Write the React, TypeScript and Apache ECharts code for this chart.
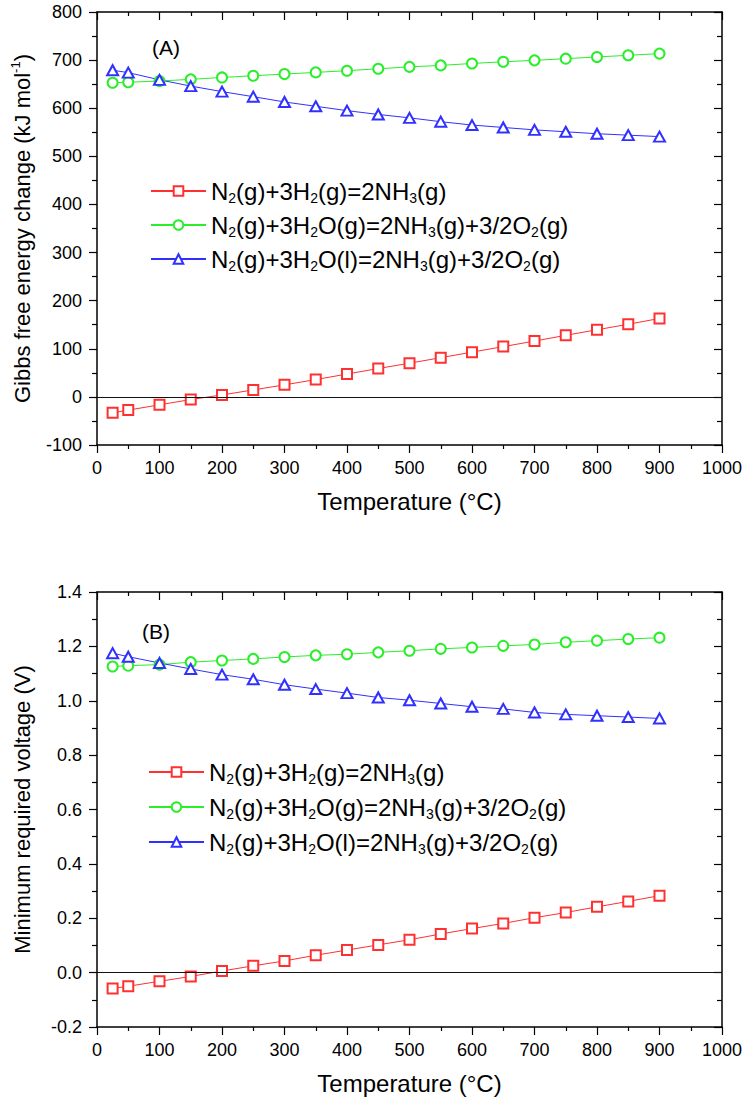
import React, { useEffect, useRef } from "react";
import * as echarts from "echarts";

const temperatures = [25, 50, 100, 150, 200, 250, 300, 350, 400, 450, 500, 550, 600, 650, 700, 750, 800, 850, 900];

// Panel A: Gibbs free energy change (kJ mol-1)
const gibbsH2 = [-33, -27.5, -16.5, -5.5, 4, 14.5, 25, 36, 47.5, 59, 70, 81.5, 93, 104.5, 116, 128, 139.5, 151, 163];
const gibbsH2Og = [653, 654, 656.5, 660, 664, 667.5, 671, 674.5, 678, 682, 686, 689, 693, 696.5, 699.5, 703, 706.5, 710, 713.5];
const gibbsH2Ol = [679, 674, 659, 646, 634.5, 624, 613, 604, 595, 587, 580, 572, 565, 560, 555, 551, 547, 544, 541];

// Panel B: Minimum required voltage (V)
const voltH2 = [-0.058, -0.05, -0.032, -0.014, 0.006, 0.025, 0.043, 0.064, 0.083, 0.102, 0.121, 0.142, 0.162, 0.181, 0.202, 0.221, 0.242, 0.262, 0.283];
const voltH2Og = [1.126, 1.129, 1.133, 1.142, 1.148, 1.154, 1.161, 1.167, 1.171, 1.178, 1.184, 1.191, 1.196, 1.202, 1.207, 1.215, 1.221, 1.227, 1.232];
const voltH2Ol = [1.175, 1.162, 1.139, 1.117, 1.096, 1.079, 1.059, 1.043, 1.028, 1.012, 1.002, 0.99, 0.978, 0.97, 0.957, 0.95, 0.945, 0.94, 0.935];

const seriesNames = [
  "N2(g)+3H2(g)=2NH3(g)",
  "N2(g)+3H2O(g)=2NH3(g)+3/2O2(g)",
  "N2(g)+3H2O(l)=2NH3(g)+3/2O2(g)",
];
const seriesRich = [
  "N{sub|2}(g)+3H{sub|2}(g)=2NH{sub|3}(g)",
  "N{sub|2}(g)+3H{sub|2}O(g)=2NH{sub|3}(g)+3/2O{sub|2}(g)",
  "N{sub|2}(g)+3H{sub|2}O(l)=2NH{sub|3}(g)+3/2O{sub|2}(g)",
];
const seriesColors = ["#ff3030", "#2aee2a", "#3030ff"];
const seriesSymbols = ["emptyRect", "emptyCircle", "emptyTriangle"];
const symbolSizes: any[] = [10, 10, [11, 10]];

const xTitle = "Temperature (°C)";
const yTitleA = "Gibbs free energy change (kJ mol{sup|-1})";
const yTitleB = "Minimum required voltage (V)";
const panelLabels = ["(A)", "(B)"];

const FONT = "'Liberation Sans', Arial, sans-serif";

export default function App() {
  const ref = useRef<HTMLDivElement>(null);

  useEffect(() => {
    if (!ref.current) return;
    const chart = echarts.init(ref.current, null, { renderer: "svg" });

    const grids = [
      { left: 97, right: 25, top: 12, height: 433 },
      { left: 97, right: 25, top: 592, height: 435 },
    ];

    const axisLine = { show: true, onZero: false, lineStyle: { color: "#000", width: 1.5 } };

    const makeX = (gridIndex: number, position: "bottom" | "top", nameGap: number) => ({
      type: "value",
      gridIndex,
      position,
      min: 0,
      max: 1000,
      interval: 100,
      name: position === "bottom" ? xTitle : "",
      nameLocation: "middle",
      nameGap,
      nameTextStyle: { fontFamily: FONT, fontSize: 24, color: "#000" },
      axisLine,
      axisTick: { show: true, inside: position === "top", length: 8, lineStyle: { color: "#000", width: 1.2 } },
      minorTick: { show: true, splitNumber: 2, length: 4, lineStyle: { color: "#000", width: 1.2 } },
      axisLabel: {
        show: position === "bottom",
        fontFamily: FONT,
        fontSize: 18,
        color: "#000",
        margin: 14,
        formatter: (v: number) => String(v),
      },
      splitLine: { show: false },
      minorSplitLine: { show: false },
    });

    const makeY = (
      gridIndex: number,
      position: "left" | "right",
      min: number,
      max: number,
      interval: number,
      decimals: number,
      name: string,
      nameGap: number
    ) => ({
      type: "value",
      gridIndex,
      position,
      min,
      max,
      interval,
      name: position === "left" ? name : "",
      nameLocation: "middle",
      nameGap,
      nameTextStyle: {
        fontFamily: FONT,
        fontSize: 22,
        color: "#000",
        lineHeight: 26,
        rich: {
          sup: { fontFamily: FONT, fontSize: 13, lineHeight: 13, verticalAlign: "top", color: "#000" },
        },
      },
      axisLine,
      axisTick: { show: true, inside: position === "right", length: 8, lineStyle: { color: "#000", width: 1.2 } },
      minorTick: { show: true, splitNumber: 2, length: 5, lineStyle: { color: "#000", width: 1.2 } },
      axisLabel: {
        show: position === "left",
        fontFamily: FONT,
        fontSize: 18,
        color: "#000",
        margin: 15,
        formatter: (v: number) => v.toFixed(decimals),
      },
      splitLine: { show: false },
      minorSplitLine: { show: false },
    });

    const dataA = [gibbsH2, gibbsH2Og, gibbsH2Ol];
    const dataB = [voltH2, voltH2Og, voltH2Ol];

    const zeroLine = {
      silent: true,
      symbol: ["none", "none"],
      label: { show: false },
      lineStyle: { color: "#111", width: 1.2, type: "solid" },
      data: [{ yAxis: 0 }],
    };

    const makeSeries = (data: number[][], xi: number, yi: number) =>
      data.map((vals, i) => ({
        type: "line",
        name: seriesNames[i],
        xAxisIndex: xi,
        yAxisIndex: yi,
        data: temperatures.map((t, k) => [t, vals[k]]),
        symbol: seriesSymbols[i],
        symbolSize: symbolSizes[i],
        showAllSymbol: true,
        color: seriesColors[i],
        lineStyle: { color: seriesColors[i], width: 1 },
        itemStyle: { color: seriesColors[i], borderWidth: 1 },
        markLine: i === 0 ? zeroLine : undefined,
        z: 3,
      }));

    const legendBase = {
      data: seriesNames,
      orient: "vertical",
      itemWidth: 55,
      itemHeight: 12,
      itemGap: 6,
      selectedMode: false,
      formatter: (name: string) => seriesRich[seriesNames.indexOf(name)],
      textStyle: {
        fontFamily: FONT,
        fontSize: 24,
        color: "#000",
        lineHeight: 28,
        rich: {
          sub: { fontFamily: FONT, fontSize: 14, lineHeight: 14, verticalAlign: "bottom", color: "#000" },
        },
      },
    };

    chart.setOption({
      animation: false,
      backgroundColor: "#fff",
      grid: grids,
      xAxis: [makeX(0, "bottom", 44), makeX(0, "top", 10), makeX(1, "bottom", 44), makeX(1, "top", 10)],
      yAxis: [
        makeY(0, "left", -100, 800, 100, 0, yTitleA, 62),
        makeY(0, "right", -100, 800, 100, 0, "", 10),
        makeY(1, "left", -0.2, 1.4, 0.2, 1, yTitleB, 62),
        makeY(1, "right", -0.2, 1.4, 0.2, 1, "", 10),
      ],
      legend: [
        { ...legendBase, left: 145, top: 172 },
        { ...legendBase, left: 143, top: 753, itemGap: 7 },
      ],
      graphic: [
        { type: "text", left: 152, top: 37, style: { text: panelLabels[0], fontFamily: FONT, fontSize: 21, fill: "#000" } },
        { type: "text", left: 142, top: 621, style: { text: panelLabels[1], fontFamily: FONT, fontSize: 21, fill: "#000" } },
      ],
      series: [...makeSeries(dataA, 0, 0), ...makeSeries(dataB, 2, 2)],
    });

    return () => chart.dispose();
  }, []);

  return (
    <div
      ref={ref}
      style={{ position: "absolute", left: 0, top: 0, width: 747, height: 1099, background: "#fff" }}
    />
  );
}
